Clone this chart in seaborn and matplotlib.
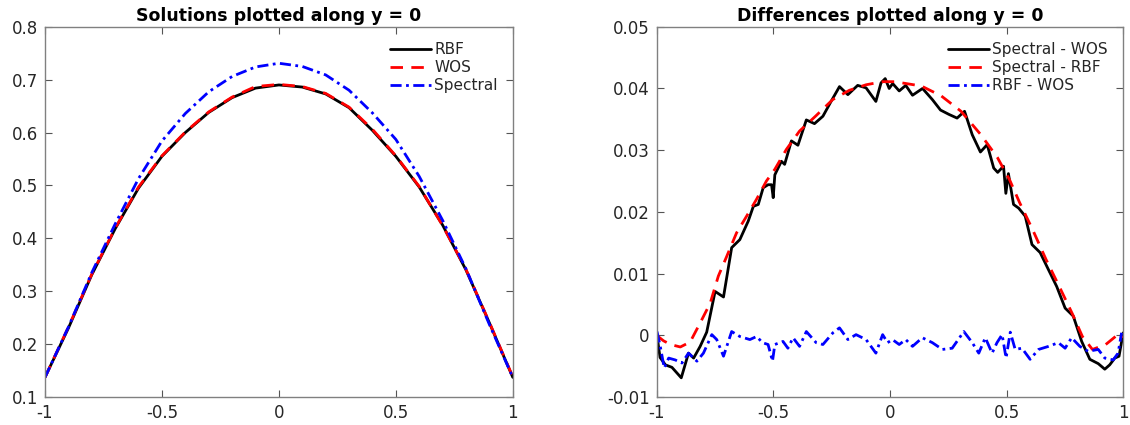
import numpy as np
import pandas as pd
import matplotlib
matplotlib.use("Agg")
import matplotlib.pyplot as plt
import seaborn as sns

# left panel: solutions along y = 0
x_sol = [-1.0, -0.9, -0.8, -0.7, -0.6, -0.5, -0.4, -0.3, -0.2, -0.1, 0.0,
         0.1, 0.2, 0.3, 0.4, 0.5, 0.6, 0.7, 0.8, 0.9, 1.0]
rbf = [0.137, 0.230, 0.331, 0.418, 0.495, 0.555, 0.600, 0.638, 0.666, 0.684, 0.690,
       0.686, 0.673, 0.647, 0.604, 0.555, 0.497, 0.425, 0.340, 0.240, 0.137]
wos = [0.137, 0.232, 0.332, 0.419, 0.497, 0.556, 0.601, 0.639, 0.667, 0.687, 0.691,
       0.687, 0.674, 0.648, 0.606, 0.556, 0.498, 0.424, 0.341, 0.241, 0.138]
spectral = [0.137, 0.232, 0.335, 0.427, 0.513, 0.584, 0.636, 0.677, 0.706, 0.724, 0.731,
            0.725, 0.709, 0.680, 0.637, 0.587, 0.517, 0.434, 0.342, 0.237, 0.137]

# right panel: differences along y = 0
x_spec_wos = [-1.0, -0.985, -0.962, -0.934, -0.894, -0.863, -0.841, -0.813, -0.785, -0.749,
              -0.713, -0.678, -0.643, -0.607, -0.585, -0.564, -0.543, -0.522, -0.507, -0.500,
              -0.493, -0.465, -0.451, -0.422, -0.394, -0.358, -0.323, -0.287, -0.252, -0.216,
              -0.180, -0.138, -0.102, -0.060, -0.038, -0.020, -0.003, 0.012, 0.040, 0.068,
              0.097, 0.140, 0.182, 0.217, 0.253, 0.288, 0.320, 0.353, 0.388, 0.417,
              0.445, 0.462, 0.487, 0.497, 0.508, 0.530, 0.552, 0.580, 0.609, 0.644,
              0.680, 0.715, 0.751, 0.786, 0.822, 0.857, 0.893, 0.921, 0.942, 0.964,
              0.982, 1.0]
spec_wos = [0.0005, -0.0036, -0.0048, -0.0052, -0.0069, -0.0029, -0.0037, -0.0018, 0.0005, 0.0071,
            0.0062, 0.0142, 0.0155, 0.0185, 0.0209, 0.0212, 0.0239, 0.0244, 0.0244, 0.0223,
            0.0260, 0.0282, 0.0277, 0.0315, 0.0308, 0.0349, 0.0343, 0.0355, 0.0379, 0.0403,
            0.0390, 0.0405, 0.0401, 0.0379, 0.0409, 0.0416, 0.0400, 0.0408, 0.0396, 0.0405,
            0.0389, 0.0400, 0.0382, 0.0365, 0.0358, 0.0352, 0.0363, 0.0325, 0.0297, 0.0309,
            0.0271, 0.0264, 0.0274, 0.0230, 0.0262, 0.0212, 0.0206, 0.0193, 0.0147, 0.0134,
            0.0106, 0.0079, 0.0044, 0.0031, -0.0010, -0.0039, -0.0046, -0.0055, -0.0048, -0.0037,
            -0.0034, 0.0004]

x_spec_rbf = [-1.0, -0.97, -0.94, -0.898, -0.856, -0.813, -0.77, -0.735, -0.699, -0.657,
              -0.614, -0.572, -0.529, -0.493, -0.444, -0.387, -0.316, -0.245, -0.174, -0.102,
              -0.031, 0.02, 0.135, 0.22, 0.305, 0.39, 0.461, 0.513, 0.556, 0.612,
              0.669, 0.726, 0.783, 0.825, 0.868, 0.925, 0.967, 0.985, 1.0]
spec_rbf = [0.0, -0.0009, -0.0015, -0.0019, -0.0011, 0.0020, 0.0052, 0.0096, 0.0128, 0.0166,
            0.0193, 0.0220, 0.0250, 0.0269, 0.0301, 0.0331, 0.0356, 0.0382, 0.0397, 0.0406,
            0.0411, 0.0411, 0.0404, 0.0388, 0.0363, 0.0325, 0.0288, 0.0252, 0.0215, 0.0171,
            0.0123, 0.0079, 0.0034, -0.0002, -0.0023, -0.0015, -0.0002, 0.0002, -0.0003]

x_rbf_wos = [-0.998, -0.984, -0.967, -0.948, -0.920, -0.891, -0.863, -0.827, -0.799, -0.763,
             -0.742, -0.713, -0.678, -0.643, -0.600, -0.571, -0.546, -0.522, -0.503, -0.493,
             -0.458, -0.437, -0.415, -0.387, -0.358, -0.316, -0.287, -0.244, -0.216, -0.180,
             -0.145, -0.102, -0.060, -0.031, -0.010, 0.011, 0.040, 0.068, 0.097, 0.139,
             0.182, 0.225, 0.267, 0.317, 0.353, 0.381, 0.409, 0.438, 0.459, 0.481,
             0.498, 0.516, 0.537, 0.566, 0.601, 0.637, 0.680, 0.722, 0.751, 0.779,
             0.814, 0.850, 0.893, 0.921, 0.957, 0.978, 0.993]
rbf_wos = [0.0006, -0.0018, -0.0053, -0.0037, -0.0040, -0.0045, -0.0029, -0.0042, -0.0029, 0.0001,
           -0.0007, -0.0034, 0.0006, -0.0002, -0.0007, -0.0002, -0.0012, -0.0015, -0.0042, -0.0015,
           -0.0010, -0.0021, -0.0004, -0.0018, 0.0006, -0.0012, -0.0015, 0.0004, 0.0012, -0.0007,
           0.0001, -0.0007, -0.0029, 0.0001, -0.0012, -0.0007, -0.0015, -0.0007, -0.0018, -0.0004,
           -0.0012, -0.0023, -0.0021, 0.0006, -0.0012, -0.0029, -0.0004, -0.0029, -0.0012, 0.0001,
           -0.0037, 0.0005, -0.0023, -0.0021, -0.0039, -0.0023, -0.0018, -0.0012, -0.0021, -0.0004,
           -0.0018, -0.0026, -0.0023, -0.0037, -0.0040, -0.0029, 0.0004]

sns.set_style("white")
plt.rcParams["font.family"] = ["DejaVu Sans"]
plt.rcParams["axes.unicode_minus"] = False

fig = plt.figure(figsize=(11.3, 4.25), dpi=100)
ax1 = fig.add_axes([0.0398, 0.066, 0.414, 0.871])
ax2 = fig.add_axes([0.581, 0.066, 0.413, 0.871])

solid = "-"
dashed = (0, (4.5, 3.0))
dashdot = (0, (4.0, 1.6, 1.0, 1.6))

sns.lineplot(x=x_sol, y=rbf, ax=ax1, color="black", lw=2, ls=solid, label="RBF",
             estimator=None, sort=False)
sns.lineplot(x=x_sol, y=wos, ax=ax1, color="#ff0000", lw=2, ls=dashed, label="WOS",
             estimator=None, sort=False)
sns.lineplot(x=x_sol, y=spectral, ax=ax1, color="#0000ff", lw=2, ls=dashdot, label="Spectral",
             estimator=None, sort=False)

sns.lineplot(x=x_spec_wos, y=spec_wos, ax=ax2, color="black", lw=2, ls=solid,
             label="Spectral - WOS", estimator=None, sort=False)
sns.lineplot(x=x_spec_rbf, y=spec_rbf, ax=ax2, color="#ff0000", lw=2, ls=dashed,
             label="Spectral - RBF", estimator=None, sort=False)
sns.lineplot(x=x_rbf_wos, y=rbf_wos, ax=ax2, color="#0000ff", lw=2, ls=dashdot,
             label="RBF - WOS", estimator=None, sort=False)

ax1.set_ylim(0.1, 0.8)
ax1.set_yticks(np.arange(0.1, 0.81, 0.1))
ax1.set_yticklabels(["0.1", "0.2", "0.3", "0.4", "0.5", "0.6", "0.7", "0.8"])
ax2.set_ylim(-0.01, 0.05)
ax2.set_yticks(np.arange(-0.01, 0.051, 0.01))
ax2.set_yticklabels(["-0.01", "0", "0.01", "0.02", "0.03", "0.04", "0.05"])

for ax, title in [(ax1, "Solutions plotted along y = 0"), (ax2, "Differences plotted along y = 0")]:
    ax.set_xlim(-1, 1)
    ax.set_xticks([-1, -0.5, 0, 0.5, 1])
    ax.set_xticklabels(["-1", "-0.5", "0", "0.5", "1"])
    ax.set_title(title, fontsize=12.5, fontweight="bold", color="black", pad=4)
    ax.tick_params(direction="in", length=5, width=0.8, color="#555555",
                   labelsize=12, labelcolor="#262626", top=True, right=True,
                   bottom=True, left=True, pad=5)
    for s in ax.spines.values():
        s.set_color("#808080")
        s.set_linewidth(1)
    ax.set_xlabel("")
    ax.set_ylabel("")
    ax.legend(loc="upper right", frameon=False, fontsize=11, handlelength=2.7,
              handletextpad=0.2, labelspacing=0.2, borderaxespad=0.6)

fig.savefig("out.png", dpi=100)
